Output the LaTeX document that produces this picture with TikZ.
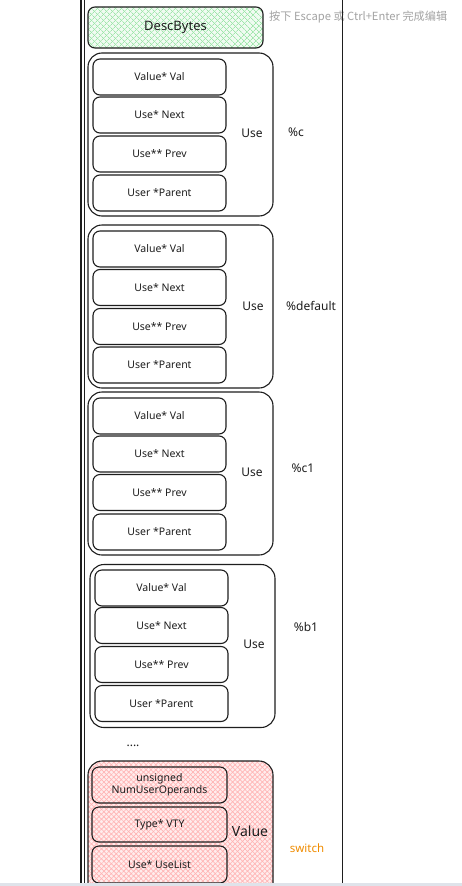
\documentclass[tikz,border=0pt]{standalone}
\usepackage{fontspec}
\setmainfont{Noto Sans}
\newfontfamily\cjk{Noto Sans CJK SC}
\usetikzlibrary{patterns.meta}
\definecolor{hatchgreen}{HTML}{9FE6AB}
\definecolor{bggreen}{HTML}{F1FBF2}
\definecolor{hatchpink}{HTML}{FFB5B5}
\definecolor{bgpink}{HTML}{FFEDED}
\definecolor{ink}{HTML}{1E1E1E}
\definecolor{orangetxt}{HTML}{F08C00}
\definecolor{graytxt}{HTML}{A3A3A3}
\definecolor{bandgray}{HTML}{DFE3EA}
\begin{document}
\begin{tikzpicture}[x=1pt,y=-1pt,
  box/.style={draw=ink, line width=1.1pt, rounded corners=7pt, inner sep=0pt,
    font=\fontsize{10.5}{12}\selectfont, text=ink, align=center,
    minimum width=133pt, minimum height=36pt},
  outerbox/.style={draw=ink, line width=1.1pt, rounded corners=14pt, inner sep=0pt,
    minimum width=185pt, minimum height=163pt},
  lbl/.style={font=\fontsize{12}{14}\selectfont, text=ink, inner sep=0pt},
  greenhatch/.style={preaction={fill=bggreen},
    preaction={pattern={Lines[angle=45,distance=4pt,line width=0.7pt]}, pattern color=hatchgreen},
    preaction={pattern={Lines[angle=-45,distance=4pt,line width=0.7pt]}, pattern color=hatchgreen}},
  pinkhatch/.style={preaction={fill=bgpink},
    preaction={pattern={Lines[angle=45,distance=3.5pt,line width=0.7pt]}, pattern color=hatchpink},
    preaction={pattern={Lines[angle=-45,distance=3.5pt,line width=0.7pt]}, pattern color=hatchpink}},
  frameline/.style={draw=ink, line width=1.2pt}
]
\useasboundingbox (0,0) rectangle (462,886);
\fill[white] (0,0) rectangle (462,886);
\begin{scope}
\clip (0,0) rectangle (462,883);

% hint text
\node[anchor=west, inner sep=0pt, text=graytxt, font=\cjk\fontsize{11.2}{13}\selectfont] (hint) at (269,17) {按下 Escape 或 Ctrl+Enter 完成编辑};

% DescBytes
\node[box, greenhatch, minimum width=175pt, minimum height=41pt, font=\fontsize{13}{15}\selectfont] (desc) at (175.5,27.5) {DescBytes};

% Block 1
\node[outerbox] (blk1) at (180.5,134.5) {};
\node[box] (b1a) at (159.5,77) {Value* Val};
\node[box] (b1b) at (159.5,115) {Use* Next};
\node[box] (b1c) at (159.5,154) {Use** Prev};
\node[box] (b1d) at (159.5,193) {User *Parent};
\node[lbl] (u1) at (252,133) {Use};
\node[lbl] (n1) at (296,132) {\%c};

% Block 2
\node[outerbox] (blk2) at (180.5,306.5) {};
\node[box] (b2a) at (159.5,249) {Value* Val};
\node[box] (b2b) at (159.5,287.5) {Use* Next};
\node[box] (b2c) at (159.5,326.5) {Use** Prev};
\node[box] (b2d) at (159.5,365) {User *Parent};
\node[lbl] (u2) at (253,306) {Use};
\node[lbl, anchor=west] (n2) at (286,306) {\%default};

% Block 3
\node[outerbox] (blk3) at (180.5,473.5) {};
\node[box] (b3a) at (159.5,416) {Value* Val};
\node[box] (b3b) at (159.5,454) {Use* Next};
\node[box] (b3c) at (159.5,492.5) {Use** Prev};
\node[box] (b3d) at (159.5,532) {User *Parent};
\node[lbl] (u3) at (252,472) {Use};
\node[lbl] (n3) at (303,468) {\%c1};

% Block 4
\node[outerbox] (blk4) at (182.5,646) {};
\node[box] (b4a) at (161.5,588) {Value* Val};
\node[box] (b4b) at (161.5,625.5) {Use* Next};
\node[box] (b4c) at (161.5,664.5) {Use** Prev};
\node[box] (b4d) at (161.5,703.5) {User *Parent};
\node[lbl] (u4) at (254,644) {Use};
\node[lbl] (n4) at (306,627) {\%b1};

\node[lbl] (dots) at (133,746) {....};

% Value block
\node[outerbox, pinkhatch, minimum height=150pt] (blkv) at (180.5,836) {};
\node[box, pinkhatch, minimum width=135pt] (v1) at (159.5,785) {unsigned\\NumUserOperands};
\node[box, pinkhatch, minimum width=135pt, minimum height=35pt] (v2) at (159.5,824.5) {Type* VTY};
\node[box, pinkhatch, minimum width=135pt, minimum height=37pt] (v3) at (159.5,864.5) {Use* UseList};
\node[lbl, font=\fontsize{14}{16}\selectfont] (vl) at (250,831) {Value};
\node[lbl, text=orangetxt, font=\fontsize{11.5}{13}\selectfont] (sw) at (307,848) {switch};

% frame lines
\draw[frameline] (81,0) -- (81,883);
\draw[frameline] (84.5,0) -- (84.5,883);
\draw[frameline] (342.5,0) -- (342.5,883);
\end{scope}
\fill[bandgray] (0,883) rectangle (462,886);
\end{tikzpicture}
\end{document}
